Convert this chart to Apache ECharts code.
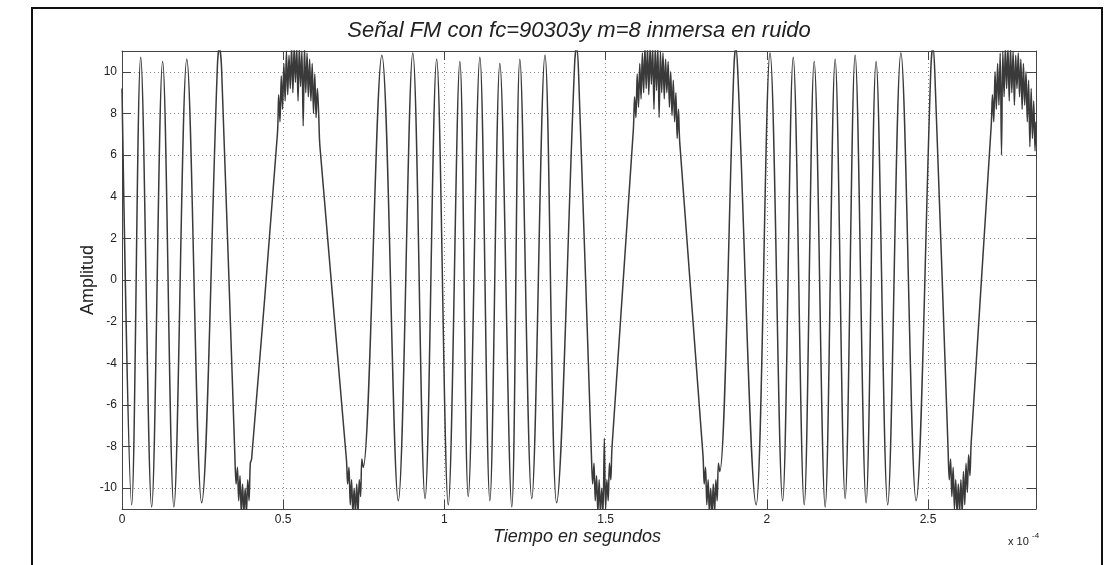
<!DOCTYPE html>
<html>
<head>
<meta charset="utf-8">
<script src="https://cdn.jsdelivr.net/npm/echarts@6/dist/echarts.min.js"></script>
<style>
  html, body { margin: 0; padding: 0; background: #fff; }
  #chart { width: 1108px; height: 565px; }
</style>
</head>
<body>
<div id="chart"></div>
<script>
// tiempo en unidades de 1e-4 s (extremos y banda de ruido visible)
const tiempo = [
  0.000, 0.030, 0.058, 0.092, 0.126, 0.161, 0.201, 0.247, 0.296, 0.302, 0.309,
  0.350, 0.354, 0.358, 0.362, 0.366, 0.370, 0.374, 0.378, 0.382, 0.386, 0.390, 0.394, 0.398, 0.402,
  0.482, 0.486, 0.490, 0.494, 0.498, 0.502, 0.506, 0.510, 0.514, 0.518, 0.522, 0.526, 0.530, 0.534, 0.538, 0.542,
  0.546, 0.550, 0.554, 0.558, 0.562, 0.566, 0.570, 0.574, 0.578, 0.582, 0.586, 0.590, 0.594, 0.598, 0.602, 0.606, 0.610, 0.614,
  0.696, 0.700, 0.704, 0.708, 0.712, 0.716, 0.720, 0.724, 0.728, 0.732, 0.736, 0.740, 0.744, 0.748,
  0.806, 0.857, 0.902, 0.940, 0.976, 1.012, 1.048, 1.074, 1.110, 1.141, 1.172, 1.209, 1.234, 1.271, 1.312, 1.348,
  1.404, 1.410, 1.416,
  1.456, 1.460, 1.464, 1.468, 1.472, 1.476, 1.480, 1.484, 1.488, 1.492, 1.496, 1.500, 1.504, 1.508, 1.512, 1.516, 1.520,
  1.586, 1.590, 1.594, 1.598, 1.602, 1.606, 1.610, 1.614, 1.618, 1.622, 1.626, 1.630, 1.634, 1.638, 1.642, 1.646, 1.650,
  1.654, 1.658, 1.662, 1.666, 1.670, 1.674, 1.678, 1.682, 1.686, 1.690, 1.694, 1.698, 1.702, 1.706, 1.710, 1.714, 1.718,
  1.722, 1.726, 1.730,
  1.802, 1.806, 1.810, 1.814, 1.818, 1.822, 1.826, 1.830, 1.834, 1.838, 1.842, 1.846, 1.850, 1.854,
  1.898, 1.904, 1.910,
  1.967, 2.010, 2.049, 2.082, 2.116, 2.147, 2.181, 2.212, 2.243, 2.274, 2.308, 2.339, 2.375, 2.416, 2.463,
  2.509, 2.515, 2.521,
  2.562, 2.566, 2.570, 2.574, 2.578, 2.582, 2.586, 2.590, 2.594, 2.598, 2.602, 2.606, 2.610, 2.614, 2.618, 2.622, 2.626, 2.630, 2.634,
  2.696, 2.700, 2.704, 2.708, 2.712, 2.716, 2.720, 2.724, 2.728, 2.732, 2.736, 2.740, 2.744, 2.748, 2.752, 2.756, 2.760,
  2.764, 2.768, 2.772, 2.776, 2.780, 2.784, 2.788, 2.792, 2.796, 2.800, 2.804, 2.808, 2.812, 2.816, 2.820, 2.824, 2.828,
  2.832, 2.835
];
const amplitud = [
  9.2, -10.8, 10.7, -10.9, 10.5, -10.9, 10.6, -10.7, 10.3, 11.2, 10.1,
  -8.4, -9.8, -9.0, -10.6, -9.4, -11.2, -9.8, -11.2, -10.0, -11.2, -9.6, -10.6, -8.8, -8.6,
  7.0, 8.9, 7.6, 9.8, 8.2, 10.4, 8.6, 11.0, 8.9, 10.8, 9.2, 11.2, 9.0, 11.2, 9.5, 11.2,
  8.6, 11.2, 9.3, 11.0, 7.4, 11.2, 9.0, 10.9, 8.8, 10.6, 8.6, 10.4, 8.0, 9.9, 7.8, 9.2, 8.0, 6.4,
  -8.6, -9.8, -9.0, -10.8, -9.6, -11.2, -10.0, -11.2, -9.8, -11.2, -9.6, -10.4, -8.6, -9.0,
  10.8, -10.6, 10.9, -10.5, 10.6, -10.8, 10.5, -10.4, 10.7, -10.6, 10.4, -10.9, 10.6, -10.5, 10.8, -10.7,
  10.4, 11.2, 10.0,
  -8.4, -9.8, -8.8, -10.6, -9.4, -11.2, -9.6, -11.2, -10.0, -11.2, -7.6, -11.0, -9.6, -10.6, -8.8, -9.6, -8.0,
  7.2, 8.8, 7.8, 9.9, 8.3, 10.4, 8.7, 10.9, 9.0, 11.2, 9.2, 11.2, 8.9, 11.2, 9.4, 11.2, 8.2,
  11.2, 9.1, 11.2, 7.8, 11.0, 9.0, 10.9, 8.7, 10.6, 9.0, 10.5, 8.3, 10.0, 7.9, 9.6, 7.6, 9.0,
  6.8, 8.2, 6.6,
  -8.4, -9.8, -9.0, -10.8, -9.6, -11.2, -10.0, -11.2, -9.8, -11.2, -9.6, -10.6, -8.8, -9.2,
  10.2, 11.2, 10.0,
  -10.8, 10.9, -10.6, 10.7, -10.8, 10.5, -10.9, 10.6, -10.5, 10.8, -10.7, 10.5, -10.8, 10.9, -10.6,
  10.2, 11.2, 10.0,
  -8.0, -9.6, -8.6, -10.4, -9.0, -11.0, -9.6, -11.2, -9.8, -11.2, -9.6, -11.2, -9.2, -10.8, -8.8, -10.2, -8.4, -9.4, -7.8,
  7.4, 8.9, 7.6, 10.0, 8.2, 10.4, 8.4, 10.9, 6.0, 11.0, 8.8, 11.2, 9.2, 11.2, 8.6, 11.2, 9.0,
  11.0, 8.4, 10.8, 9.2, 10.9, 8.8, 10.6, 8.2, 10.4, 8.4, 10.0, 7.6, 9.6, 6.4, 9.2, 6.8, 8.6,
  6.2, 7.6
];
const xTicks = [0, 0.5, 1, 1.5, 2, 2.5];
const yTicks = [-10, -8, -6, -4, -2, 0, 2, 4, 6, 8, 10];

const chart = echarts.init(document.getElementById("chart"));
const font = "'Liberation Sans', Arial, Helvetica, sans-serif";
const gridLine = { show: true, lineStyle: { color: "#8a8a8a", type: [1, 3], width: 1 } };
const axisLine = { show: true, onZero: false, lineStyle: { color: "#444", width: 1 } };

chart.setOption({
  animation: false,
  backgroundColor: "#fff",
  grid: { left: 122, top: 51, right: 72, bottom: 56, containLabel: false },
  xAxis: [
    {
      type: "value", min: 0, max: 2.835, position: "bottom",
      axisLine: axisLine,
      axisTick: { inside: true, length: 9, customValues: xTicks, lineStyle: { color: "#444" } },
      axisLabel: { customValues: xTicks, margin: 5, color: "#222", fontSize: 12, fontFamily: font },
      splitLine: gridLine
    },
    {
      type: "value", min: 0, max: 2.835, position: "top",
      axisLine: axisLine,
      axisTick: { inside: true, length: 9, customValues: xTicks, lineStyle: { color: "#444" } },
      axisLabel: { show: false },
      splitLine: { show: false }
    }
  ],
  yAxis: [
    {
      type: "value", min: -11, max: 11, position: "left",
      axisLine: axisLine,
      axisTick: { inside: true, length: 9, customValues: yTicks, lineStyle: { color: "#444" } },
      axisLabel: { customValues: yTicks, margin: 5, color: "#222", fontSize: 12, fontFamily: font },
      splitLine: gridLine
    },
    {
      type: "value", min: -11, max: 11, position: "right",
      axisLine: axisLine,
      axisTick: { inside: true, length: 9, customValues: yTicks, lineStyle: { color: "#444" } },
      axisLabel: { show: false },
      splitLine: { show: false }
    }
  ],
  series: [
    {
      name: "Señal FM",
      type: "line",
      data: tiempo.map((t, i) => [t, amplitud[i]]),
      smooth: 0.35,
      showSymbol: false,
      clip: true,
      lineStyle: { color: "#3a3a3a", width: 1.5 }
    }
  ],
  graphic: [
    { type: "rect", shape: { x: 32, y: 8, width: 1070, height: 620 }, style: { fill: "none", stroke: "#111", lineWidth: 2 }, silent: true },
    { type: "text", x: 579, y: 31, style: { text: "Señal FM con fc=90303y m=8 inmersa en ruido", font: "italic 22px " + font, fill: "#222", align: "center", verticalAlign: "middle" } },
    { type: "text", x: 577, y: 537, style: { text: "Tiempo en segundos", font: "italic 18px " + font, fill: "#222", align: "center", verticalAlign: "middle" } },
    { type: "text", x: 88, y: 280, rotation: Math.PI / 2, style: { text: "Amplitud", font: "18px " + font, fill: "#222", align: "center", verticalAlign: "middle" } },
    { type: "text", x: 1008, y: 542, style: { text: "x 10", font: "11px " + font, fill: "#222", align: "left", verticalAlign: "middle" } },
    { type: "text", x: 1032, y: 536, style: { text: "-4", font: "8px " + font, fill: "#222", align: "left", verticalAlign: "middle" } }
  ]
});

window.addEventListener("resize", () => chart.resize());
</script>
</body>
</html>
